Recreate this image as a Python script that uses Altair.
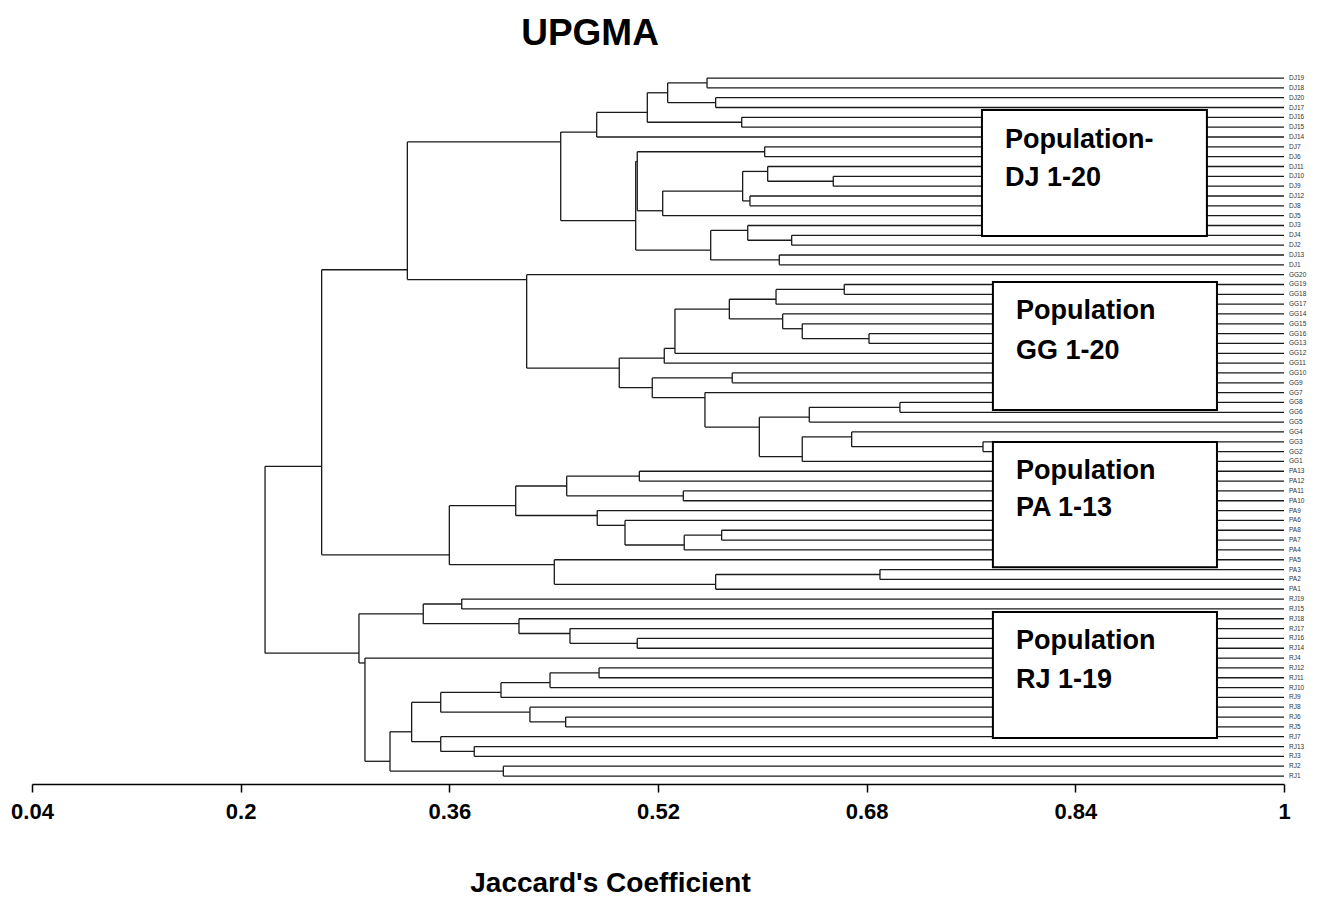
import altair as alt
import pandas as pd

# ---------------- data ----------------
leaves = ["DJ19", "DJ18", "DJ20", "DJ17", "DJ16", "DJ15", "DJ14", "DJ7", "DJ6", "DJ11",
          "DJ10", "DJ9", "DJ12", "DJ8", "DJ5", "DJ3", "DJ4", "DJ2", "DJ13", "DJ1",
          "GG20", "GG19", "GG18", "GG17", "GG14", "GG15", "GG16", "GG13", "GG12", "GG11",
          "GG10", "GG9", "GG7", "GG8", "GG6", "GG5", "GG4", "GG3", "GG2", "GG1",
          "PA13", "PA12", "PA11", "PA10", "PA9", "PA6", "PA8", "PA7", "PA4", "PA5",
          "PA3", "PA2", "PA1",
          "RJ19", "RJ15", "RJ18", "RJ17", "RJ16", "RJ14", "RJ4", "RJ12", "RJ11", "RJ10",
          "RJ9", "RJ8", "RJ6", "RJ5", "RJ7", "RJ13", "RJ3", "RJ2", "RJ1"]

# UPGMA merges (m<k> = k-th merge), similarity level of each merge
merge_left = ["DJ19", "DJ20", "m0", "DJ16", "m2", "m4", "DJ7", "DJ10", "DJ11", "DJ12",
              "m8", "m10", "m6", "DJ4", "DJ3", "DJ13", "m14", "m12", "m5",
              "GG19", "m19", "GG16", "GG15", "GG14", "m20", "m24", "m25", "GG10", "GG8",
              "m28", "GG3", "GG4", "m31", "m29", "GG7", "m27", "m26", "GG20", "m18",
              "PA13", "PA11", "m39", "PA8", "m42", "PA6", "PA9", "m41", "PA3", "m47",
              "PA5", "m46", "m38",
              "RJ19", "RJ16", "RJ17", "RJ18", "m52", "RJ12", "m57", "m58", "RJ6", "RJ8",
              "m59", "RJ13", "RJ7", "m62", "RJ2", "m65", "RJ4", "m56", "m51"]
merge_right = ["DJ18", "DJ17", "m1", "DJ15", "m3", "DJ14", "DJ6", "DJ9", "m7", "DJ8",
               "m9", "DJ5", "m11", "DJ2", "m13", "DJ1", "m15", "m16", "m17",
               "GG18", "GG17", "GG13", "m21", "m22", "m23", "GG12", "GG11", "GG9", "GG6",
               "GG5", "GG2", "m30", "GG1", "m32", "m33", "m34", "m35", "m36", "m37",
               "PA12", "PA10", "m40", "PA7", "PA4", "m43", "m44", "m45", "PA2", "PA1",
               "m48", "m49", "m50",
               "RJ15", "RJ14", "m53", "m54", "m55", "RJ11", "RJ10", "RJ9", "RJ5", "m60",
               "m61", "RJ3", "m63", "m64", "RJ1", "m66", "m67", "m68", "m69"]
merge_sim = [0.5576, 0.5642, 0.5274, 0.5842, 0.5118, 0.4730, 0.6018, 0.6544, 0.6041, 0.5905,
             0.5849, 0.5236, 0.5041, 0.6225, 0.5888, 0.6130, 0.5604, 0.5029, 0.4454,
             0.6628, 0.6105, 0.6818, 0.6306, 0.6156, 0.5747, 0.5330, 0.5248, 0.5769, 0.7055,
             0.6360, 0.7692, 0.6685, 0.6306, 0.5977, 0.5560, 0.5156, 0.4903, 0.4193, 0.3278,
             0.5057, 0.5394, 0.4500, 0.5688, 0.5401, 0.4947, 0.4734, 0.4109, 0.6902, 0.5642,
             0.4405, 0.3600, 0.2621,
             0.3695, 0.5041, 0.4525, 0.4134, 0.3400, 0.4748, 0.4372, 0.3996, 0.4492, 0.4218,
             0.3534, 0.3791, 0.3534, 0.3311, 0.4014, 0.3145, 0.2953, 0.2907, 0.2187]

tick_values = [0.04, 0.2, 0.36, 0.52, 0.68, 0.84, 1.0]

# annotation boxes (similarity units / leaf-row units)
box_x0 = [0.7684, 0.7768, 0.7768, 0.7768]
box_x1 = [0.9409, 0.9486, 0.9486, 0.9486]
box_y0 = [3.26, 20.75, 37.03, 54.32]
box_y1 = [16.07, 33.77, 49.75, 67.14]
box_line1 = ["Population-", "Population", "Population", "Population"]
box_line2 = ["DJ 1-20", "GG 1-20", "PA 1-13", "RJ 1-19"]
box_line1_y = [6.31, 23.70, 39.98, 57.27]
box_line2_y = [10.17, 27.77, 43.74, 61.24]

# chart heading, placed in the same units (similarity / leaf row)
heading = ["UPGMA"]
heading_x = [0.4679]
heading_y = [-3.36]

# ---------------- build dendrogram segments ----------------
span, rep, level = {}, {}, {}
for i, name in enumerate(leaves):
    span[name] = (i, i)
    rep[name] = float(i)
    level[name] = 1.0
segs = []
for k, (l, r, h) in enumerate(zip(merge_left, merge_right, merge_sim)):
    node = f"m{k}"
    assert span[l][1] + 1 == span[r][0], (node, l, r)
    span[node] = (span[l][0], span[r][1])
    rep[node] = span[l][1] + 0.5
    level[node] = h
    segs.append(dict(x=h, x2=h, y=rep[l], y2=rep[r]))
    for c in (l, r):
        segs.append(dict(x=h, x2=level[c], y=rep[c], y2=rep[c]))
seg_df = pd.DataFrame(segs)

leaf_df = pd.DataFrame({"name": leaves, "y": list(range(len(leaves))), "x": [1.0] * len(leaves)})
box_df = pd.DataFrame({"x0": box_x0, "x1": box_x1, "y0": box_y0, "y1": box_y1})
txt_df = pd.DataFrame({"x": box_x0 * 2,
                       "y": box_line1_y + box_line2_y,
                       "t": box_line1 + box_line2})
head_df = pd.DataFrame({"x": heading_x, "y": heading_y, "t": heading})

FONT = "Liberation Sans"
xs = alt.Scale(domain=[0.04, 1.0], nice=False, zero=False)
ys = alt.Scale(domain=[-1.02, 71.81], reverse=True, nice=False, zero=False)

xaxis = alt.Axis(values=tick_values, format="~g", grid=False,
                 labelFont=FONT, labelFontWeight="bold", labelFontSize=22, labelColor="black",
                 labelFlush=False, labelOverlap=False, labelPadding=9,
                 tickColor="black", tickWidth=1.5, tickSize=8,
                 domainColor="black", domainWidth=1.5,
                 title="Jaccard's Coefficient", titleFont=FONT, titleFontWeight="bold",
                 titleFontSize=28, titleColor="black", titleX=578, titleY=107,
                 titleBaseline="alphabetic", titleAlign="center")

lines = alt.Chart(seg_df).mark_rule(color="#1a1a1a", strokeWidth=1.3).encode(
    x=alt.X("x:Q", scale=xs, axis=xaxis),
    x2="x2:Q",
    y=alt.Y("y:Q", scale=ys, axis=None),
    y2="y2:Q",
)

labels = alt.Chart(leaf_df).mark_text(align="left", baseline="middle", dx=5, fontSize=6.5,
                                      font=FONT, color="#333333").encode(
    x=alt.X("x:Q", scale=xs), y=alt.Y("y:Q", scale=ys), text="name:N")

boxes = alt.Chart(box_df).mark_rect(fill="white", stroke="black", strokeWidth=2).encode(
    x=alt.X("x0:Q", scale=xs), x2="x1:Q", y=alt.Y("y0:Q", scale=ys), y2="y1:Q")

box_text = alt.Chart(txt_df).mark_text(align="left", baseline="middle", dx=23, fontSize=27,
                                       fontWeight="bold", font=FONT, color="black").encode(
    x=alt.X("x:Q", scale=xs), y=alt.Y("y:Q", scale=ys), text="t:N")

head = alt.Chart(head_df).mark_text(align="center", baseline="alphabetic", fontSize=37,
                                    fontWeight="bold", font=FONT, color="black").encode(
    x=alt.X("x:Q", scale=xs), y=alt.Y("y:Q", scale=ys), text="t:N")

chart = alt.layer(lines, labels, boxes, box_text, head).properties(
    width=1252, height=716,
    autosize=alt.AutoSizeParams(type="none"),
    padding={"left": 24, "top": 60, "right": 30, "bottom": 115},
).configure_view(stroke=None)

chart.save("out.html", embed_options={"renderer": "svg", "actions": False})
